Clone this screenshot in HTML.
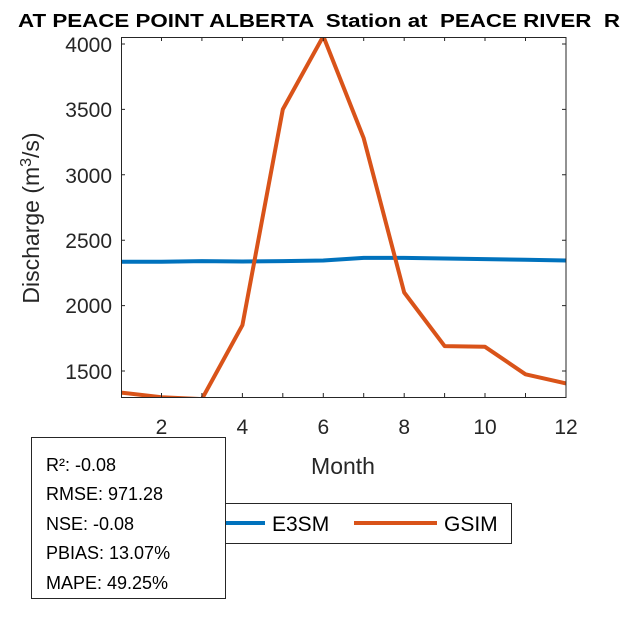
<!DOCTYPE html>
<html><head><style>body{margin:0;background:#fff}</style></head><body>
<svg width="625" height="625" xmlns="http://www.w3.org/2000/svg" font-family="Liberation Sans, Arial, sans-serif">
<rect width="625" height="625" fill="#fff"/>
<text x="18" y="27" font-size="18" font-weight="bold" fill="#000" style="white-space:pre" textLength="602" lengthAdjust="spacingAndGlyphs">AT PEACE POINT ALBERTA  Station at  PEACE RIVER  R</text>
<defs><clipPath id="c"><rect x="121" y="37" width="445" height="360"/></clipPath></defs>
<g clip-path="url(#c)" fill="none" stroke-width="4" stroke-linejoin="round">
<polyline stroke="#0072BD" points="121,261.8 161.5,261.8 201.9,261.1 242.4,261.5 282.8,261.1 323.3,260.5 363.7,257.9 404.2,257.9 444.6,258.5 485,259.1 525.5,259.8 566,260.5"/>
<polyline stroke="#D95319" points="121,392.6 161.5,397.2 201.9,399.1 242.4,325.2 282.8,109.4 323.3,36.2 363.7,138.2 404.2,292.5 444.6,346.1 485,346.8 525.5,374.3 566,383.4"/>
</g>
<g stroke="#262626" stroke-width="1" fill="none">
<rect x="121.5" y="37.5" width="444.5" height="360"/>
<path d="M161.5,397v-4M201.9,397v-4M242.4,397v-4M282.8,397v-4M323.3,397v-4M363.7,397v-4M404.2,397v-4M444.6,397v-4M485,397v-4M525.5,397v-4
M161.5,37v4M201.9,37v4M242.4,37v4M282.8,37v4M323.3,37v4M363.7,37v4M404.2,37v4M444.6,37v4M485,37v4M525.5,37v4
M121,44h4M121,109.4h4M121,174.8h4M121,240.2h4M121,305.6h4M121,371h4
M566,44h-4M566,109.4h-4M566,174.8h-4M566,240.2h-4M566,305.6h-4M566,371h-4"/>
</g>
<g font-size="21" fill="#262626" text-anchor="end">
<text x="112" y="52">4000</text><text x="112" y="117">3500</text><text x="112" y="183">3000</text>
<text x="112" y="248">2500</text><text x="112" y="313">2000</text><text x="112" y="379">1500</text>
</g>
<g font-size="21" fill="#262626" text-anchor="middle">
<text x="161.5" y="434">2</text><text x="242.4" y="434">4</text><text x="323.3" y="434">6</text>
<text x="404.2" y="434">8</text><text x="485" y="434">10</text><text x="566" y="434">12</text>
<text x="343" y="474" font-size="23">Month</text>
</g>
<text transform="translate(39,218) rotate(-90)" font-size="23" fill="#262626" text-anchor="middle">Discharge (m<tspan dy="-8" font-size="16">3</tspan><tspan dy="8">/s)</tspan></text>
<rect x="222.5" y="503.5" width="289" height="40" fill="#fff" stroke="#262626"/>
<line x1="225" y1="523" x2="265" y2="523" stroke="#0072BD" stroke-width="4"/>
<text x="272" y="531" font-size="21" fill="#000">E3SM</text>
<line x1="354" y1="523" x2="437" y2="523" stroke="#D95319" stroke-width="4"/>
<text x="444" y="531" font-size="21" fill="#000">GSIM</text>
<rect x="31.5" y="437.5" width="194" height="161" fill="#fff" stroke="#262626"/>
<g font-size="18" fill="#000">
<text x="46" y="471">R²: -0.08</text><text x="46" y="500">RMSE: 971.28</text><text x="46" y="530">NSE: -0.08</text>
<text x="46" y="559">PBIAS: 13.07%</text><text x="46" y="589">MAPE: 49.25%</text>
</g>
</svg>
</body></html>
